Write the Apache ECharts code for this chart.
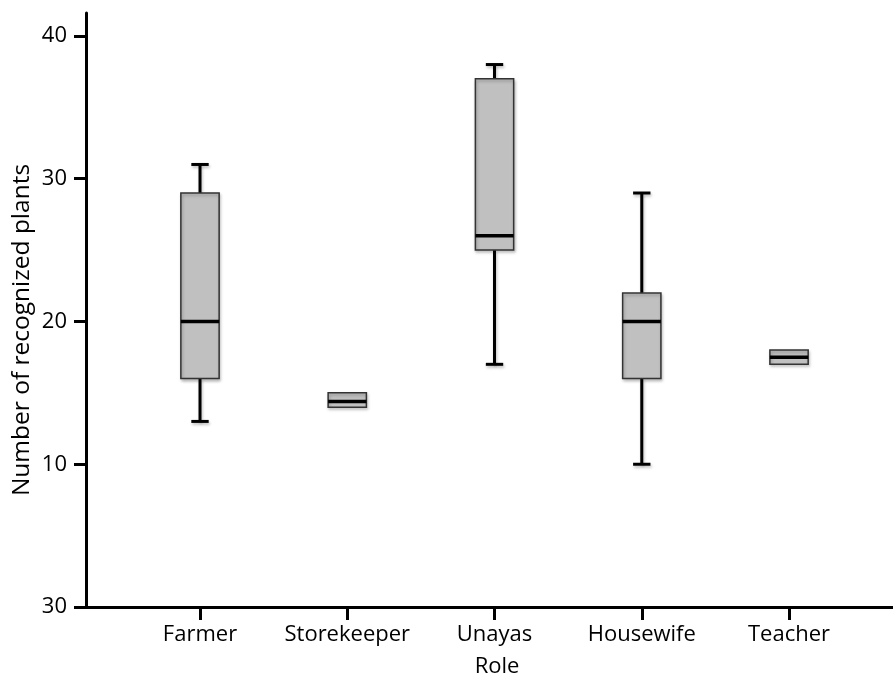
<!DOCTYPE html>
<html>
<head>
<meta charset="utf-8">
<script src="https://cdn.jsdelivr.net/npm/echarts@6/dist/echarts.min.js"></script>
<style>
  html, body { margin: 0; padding: 0; background: #fff; }
  #chart { width: 893px; height: 675px; }
</style>
</head>
<body>
<div id="chart"></div>
<script>
// box statistics per role
var categories = ['Farmer', 'Storekeeper', 'Unayas', 'Housewife', 'Teacher'];
var mins    = [13, 14,   17, 10, 17];
var q1s     = [16, 14,   25, 16, 17];
var medians = [20, 14.4, 26, 20, 17.5];
var q3s     = [29, 15,   37, 22, 18];
var maxs    = [31, 15,   38, 29, 18];
var yTickValues = [0, 10, 20, 30, 40];
var yTickLabels = ['30', '10', '20', '30', '40'];

var font = 'Open Sans';
var boxData = categories.map(function (c, i) {
  return [i + 1, mins[i], q1s[i], medians[i], q3s[i], maxs[i]];
});

var shadow = { shadowBlur: 3, shadowOffsetX: 1, shadowOffsetY: 2, shadowColor: 'rgba(0,0,0,0.25)' };

function renderBox(params, api) {
  var x = api.value(0);
  var pMin = api.coord([x, api.value(1)]);
  var pQ1 = api.coord([x, api.value(2)]);
  var pMed = api.coord([x, api.value(3)]);
  var pQ3 = api.coord([x, api.value(4)]);
  var pMax = api.coord([x, api.value(5)]);
  var band = api.size([1, 0])[0];
  var bw = band * 0.26;
  var cw = band * 0.118;
  var cx = pMed[0];
  var children = [];
  var lineStyle = Object.assign({ stroke: '#000', lineWidth: 3 }, shadow);
  if (api.value(1) < api.value(2)) {
    children.push({ type: 'line', shape: { x1: cx, y1: pQ1[1], x2: cx, y2: pMin[1] }, style: lineStyle });
    children.push({ type: 'line', shape: { x1: cx - cw / 2, y1: pMin[1], x2: cx + cw / 2, y2: pMin[1] }, style: lineStyle });
  }
  if (api.value(5) > api.value(4)) {
    children.push({ type: 'line', shape: { x1: cx, y1: pQ3[1], x2: cx, y2: pMax[1] }, style: lineStyle });
    children.push({ type: 'line', shape: { x1: cx - cw / 2, y1: pMax[1], x2: cx + cw / 2, y2: pMax[1] }, style: lineStyle });
  }
  children.push({
    type: 'rect',
    shape: { x: cx - bw / 2, y: pQ3[1], width: bw, height: pQ1[1] - pQ3[1] },
    style: Object.assign({ fill: '#c0c0c0', stroke: '#333', lineWidth: 1.5 }, shadow)
  });
  children.push({
    type: 'line',
    shape: { x1: cx - bw / 2, y1: pMed[1], x2: cx + bw / 2, y2: pMed[1] },
    style: { stroke: '#000', lineWidth: 3.5 }
  });
  return { type: 'group', children: children };
}

var myChart = echarts.init(document.getElementById('chart'));
var option = {
  animation: false,
  grid: { left: 86, right: 0, top: 13, bottom: 68, outerBoundsMode: 'none' },
  xAxis: {
    type: 'value',
    min: 0.2258,
    max: 5.706,
    splitLine: { show: false },
    axisLine: { lineStyle: { color: '#000', width: 3 } },
    axisTick: { customValues: [1, 2, 3, 4, 5], length: 13, lineStyle: { color: '#000', width: 3 } },
    axisLabel: {
      customValues: [1, 2, 3, 4, 5],
      margin: 17,
      fontFamily: font,
      fontSize: 22,
      color: '#000',
      formatter: function (v) { return categories[Math.round(v) - 1]; }
    },
    name: 'Role',
    nameLocation: 'middle',
    nameGap: 49,
    nameTextStyle: { fontFamily: font, fontSize: 22, color: '#000', padding: [0, 0, 0, 15] }
  },
  yAxis: {
    type: 'value',
    min: 0,
    max: 41.61,
    splitLine: { show: false },
    axisLine: { show: true, lineStyle: { color: '#000', width: 3 } },
    axisTick: { show: true, customValues: yTickValues, length: 12, lineStyle: { color: '#000', width: 3 } },
    axisLabel: {
      customValues: yTickValues,
      margin: 19,
      fontFamily: font,
      fontSize: 22,
      color: '#000',
      formatter: function (v) { return yTickLabels[yTickValues.indexOf(v)]; }
    }
  },
  graphic: [{
    type: 'text',
    x: 22,
    y: 330,
    rotation: Math.PI / 2,
    style: {
      text: 'Number of recognized plants',
      fontFamily: font,
      fontSize: 24.5,
      fill: '#000',
      align: 'center',
      verticalAlign: 'middle'
    }
  }],
  series: [{
    type: 'custom',
    renderItem: renderBox,
    encode: { x: 0, y: [1, 2, 3, 4, 5] },
    data: boxData
  }]
};
myChart.setOption(option);
</script>
</body>
</html>
